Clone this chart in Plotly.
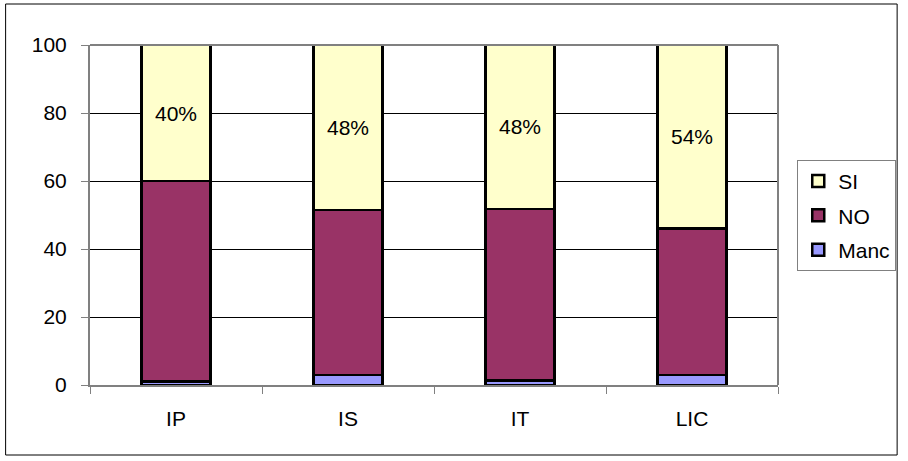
import plotly.graph_objects as go

categories = ["IP", "IS", "IT", "LIC"]
manc = [1.0, 3.0, 1.3, 3.0]
no_vals = [59.0, 48.5, 50.5, 43.0]
si_vals = [40.0, 48.5, 48.2, 54.0]
si_labels = ["40%", "48%", "48%", "54%"]
y_ticks = [0, 20, 40, 60, 80, 100]

FONT = "Liberation Sans, Arial, sans-serif"
fs = 21

fig = go.Figure()
fig.add_trace(go.Bar(x=categories, y=manc, name="Manc", legendgroup="c", legendrank=3,
                     marker=dict(color="#9999FF", line=dict(color="black", width=2.5)), width=0.4))
fig.add_trace(go.Bar(x=categories, y=no_vals, name="NO", legendgroup="b", legendrank=2,
                     marker=dict(color="#993366", line=dict(color="black", width=2.5)), width=0.4))
fig.add_trace(go.Bar(x=categories, y=si_vals, name="SI", legendgroup="a", legendrank=1,
                     marker=dict(color="#FFFFCC", line=dict(color="black", width=2.5)), width=0.4,
                     text=si_labels, texttemplate="%{text}", textposition="inside",
                     insidetextanchor="middle", textangle=0,
                     textfont=dict(family=FONT, size=fs, color="black")))

fig.update_layout(
    width=908, height=461,
    barmode="stack",
    plot_bgcolor="white", paper_bgcolor="white",
    margin=dict(l=90, r=125, t=45, b=76),
    font=dict(family=FONT, size=fs, color="black"),
    showlegend=True,
    legend=dict(x=1.028, y=0.662, xanchor="left", yanchor="top",
                traceorder="grouped", tracegroupgap=4,
                bordercolor="#808080", borderwidth=1,
                font=dict(family=FONT, size=fs, color="black"),
                itemwidth=30),
    uniformtext=dict(minsize=fs, mode="show"),
    shapes=[
        dict(type="rect", xref="paper", yref="paper",
             x0=(5 - 90) / 693, x1=(903 - 90) / 693,
             y0=(385 - 455) / 340, y1=(385 - 4) / 340,
             line=dict(color="black", width=1), layer="below"),
        dict(type="line", xref="paper", yref="paper", x0=0, x1=1, y0=1, y1=1,
             line=dict(color="#808080", width=2)),
        dict(type="line", xref="paper", yref="paper", x0=1, x1=1, y0=0, y1=1,
             line=dict(color="#808080", width=2)),
    ],
)
fig.update_yaxes(range=[0, 100], tickvals=y_ticks, showgrid=True, gridcolor="black", gridwidth=1,
                 showline=True, linecolor="#808080", linewidth=2, ticks="outside", ticklen=7,
                 tickcolor="#808080", zeroline=False, fixedrange=True, ticklabelstandoff=10,
                 tickfont=dict(family=FONT, size=fs, color="black"))
fig.update_xaxes(showline=True, linecolor="#808080", linewidth=2, ticks="outside",
                 tickson="boundaries", ticklen=7, tickcolor="#808080", showgrid=False,
                 ticklabelstandoff=14,
                 tickfont=dict(family=FONT, size=fs, color="black"))

fig.write_html("out.html", config={"displayModeBar": False},
               post_script="document.body.style.margin='0';document.body.style.overflow='hidden';")
